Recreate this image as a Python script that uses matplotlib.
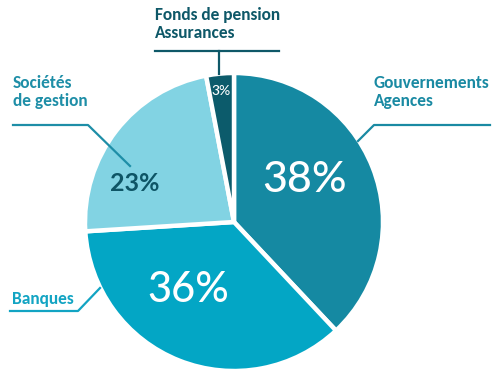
import matplotlib
matplotlib.use("Agg")
import matplotlib.pyplot as plt

# data
categories = ["Gouvernements\nAgences", "Banques", "Sociétés\nde gestion", "Fonds de pension\nAssurances"]
shares = [38, 36, 23, 3]
slice_colors = ["#1589a2", "#03a6c5", "#82d3e3", "#0c5b6b"]
label_colors = ["#1a8aa3", "#12a4c3", "#1e8ea7", "#0e5868"]
pct_colors = ["white", "white", "#0e5566", "white"]

fig = plt.figure(figsize=(5, 3.74), dpi=100)
ax = fig.add_axes([0, 0, 1, 1])

cx, cy, r = 234, 152, 149
wedges, _ = ax.pie(
    shares,
    colors=slice_colors,
    startangle=90,
    counterclock=False,
    center=(cx, cy),
    radius=r,
    wedgeprops=dict(edgecolor="white", linewidth=3.2),
    frame=True,
)
ax.set_xlim(0, 500)
ax.set_ylim(0, 374)
ax.set_aspect("equal")
ax.axis("off")

# percent labels
pct_pos = [(305, 194), (188, 84), (135, 191), (221, 283)]
pct_size = [31, 30, 18, 10]
pct_weight = ["medium", "medium", "bold", "medium"]
for s, (x, y), fs, c, w in zip(shares, pct_pos, pct_size, pct_colors, pct_weight):
    ax.text(x, y, f"{s}%", ha="center", va="center", fontsize=fs, color=c,
            family="Lato", fontweight=w)

# category labels + leader lines
lab_font = dict(family=["Carlito", "DejaVu Sans"], fontweight="bold", fontsize=12.5, linespacing=1.2)
ax.text(374, 282, categories[0], ha="left", va="center", color=label_colors[0], **lab_font)
ax.plot([490, 374, 358], [249, 249, 233], color=label_colors[0], lw=1.6)

ax.text(12, 75, categories[1], ha="left", va="center", color=label_colors[1], **lab_font)
ax.plot([10, 78, 100], [63, 63, 86], color=label_colors[1], lw=1.6)

ax.text(13, 282, categories[2], ha="left", va="center", color=label_colors[2], **lab_font)
ax.plot([13, 88, 130], [249, 249, 208], color=label_colors[2], lw=1.6)

ax.text(155, 350, categories[3], ha="left", va="center", color=label_colors[3], **lab_font)
ax.plot([155, 279], [323, 323], color=label_colors[3], lw=1.6)
ax.plot([219, 219], [323, 300], color=label_colors[3], lw=1.6)

fig.savefig("out.png", dpi=100)
